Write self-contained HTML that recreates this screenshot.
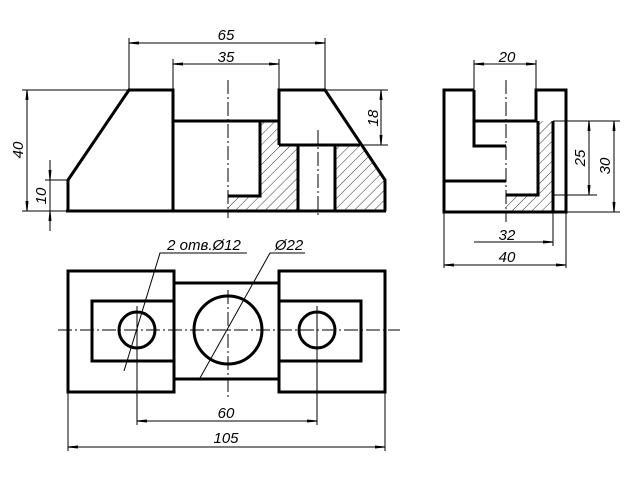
<!DOCTYPE html>
<html><head><meta charset="utf-8"><style>html,body{margin:0;padding:0;background:#fff}svg{display:block}</style></head><body>
<svg width="640" height="480" viewBox="0 0 640 480" xmlns="http://www.w3.org/2000/svg">
<defs>
<pattern id="h" patternUnits="userSpaceOnUse" width="7" height="7" patternTransform="rotate(45)">
<line x1="0" y1="0" x2="0" y2="7" stroke="#000" stroke-width="0.8"/>
</pattern>
<marker id="a" viewBox="0 0 10 4" refX="10" refY="2" markerWidth="10" markerHeight="4" orient="auto-start-reverse" markerUnits="userSpaceOnUse">
<path d="M0,0.5 L10,1.5 L10,2.5 L0,3.5z" fill="#000"/>
</marker>
</defs>
<rect width="640" height="480" fill="#fff"/>
<g fill="url(#h)">
<polygon points="260,121 279,121 279,145 298,145 298,211 228,211 228,196 260,196"/>
<polygon points="335,145 360,145 385,180 385,211 335,211"/>
<polygon points="538,121 553,121 553,212 506,212 506,195 538,195"/>
</g>
<g stroke="#000" stroke-width="3" fill="none" stroke-linejoin="miter">
<polyline points="68,211 68,180 129,90 173,90 173,211"/>
<line x1="66" y1="211" x2="386" y2="211"/>
<polyline points="173,121 279,121"/>
<polyline points="279,145 279,90 325,90 385,180 385,211"/>
<line x1="279" y1="145" x2="360" y2="145"/>
<polyline points="228,196 260,196 260,121"/>
<line x1="298" y1="145" x2="298" y2="211"/>
<line x1="335" y1="145" x2="335" y2="211"/>
<polyline points="474,90 444,90 444,212 566,212 566,90 536,90 536,121 474,121 474,90"/>
<polyline points="474,121 474,146 506,146"/>
<line x1="444" y1="181" x2="506" y2="181"/>
<polyline points="506,195 538,195 538,121"/>
<line x1="553" y1="121" x2="553" y2="212"/>
<rect x="68" y="271" width="106" height="121"/>
<rect x="279" y="271" width="106" height="121"/>
<line x1="174" y1="283" x2="279" y2="283"/>
<line x1="174" y1="379" x2="279" y2="379"/>
<polyline points="174,301 92,301 92,361 174,361"/>
<polyline points="279,301 361,301 361,361 279,361"/>
<circle cx="137" cy="330" r="18"/>
<circle cx="317" cy="330" r="18"/>
<circle cx="228" cy="330" r="34"/>
</g>
<g stroke="#000" stroke-width="1" fill="none" stroke-dasharray="14,3,2,3">
<line x1="228" y1="80" x2="228" y2="218"/>
<line x1="318" y1="130" x2="318" y2="218"/>
<line x1="506" y1="80" x2="506" y2="222"/>
<line x1="58" y1="330" x2="400" y2="330"/>
<line x1="228" y1="290" x2="228" y2="400"/>
</g>
<g stroke="#000" stroke-width="1" fill="none">
<line x1="129" y1="38" x2="129" y2="90"/><line x1="325" y1="38" x2="325" y2="90"/>
<line x1="173" y1="59" x2="173" y2="90"/><line x1="279" y1="59" x2="279" y2="90"/>
<line x1="129" y1="43" x2="325" y2="43" marker-start="url(#a)" marker-end="url(#a)"/>
<line x1="173" y1="64" x2="279" y2="64" marker-start="url(#a)" marker-end="url(#a)"/>
<line x1="22" y1="90" x2="129" y2="90"/><line x1="22" y1="211" x2="68" y2="211"/>
<line x1="27" y1="90" x2="27" y2="211" marker-start="url(#a)" marker-end="url(#a)"/>
<line x1="45" y1="180" x2="68" y2="180"/>
<line x1="50" y1="160" x2="50" y2="180" marker-end="url(#a)"/>
<line x1="50" y1="231" x2="50" y2="211" marker-end="url(#a)"/>
<line x1="50" y1="180" x2="50" y2="211"/>
<line x1="325" y1="90" x2="388" y2="90"/><line x1="360" y1="145" x2="388" y2="145"/>
<line x1="381" y1="90" x2="381" y2="145" marker-start="url(#a)" marker-end="url(#a)"/>
<line x1="474" y1="60" x2="474" y2="90"/><line x1="536" y1="60" x2="536" y2="90"/>
<line x1="474" y1="64" x2="536" y2="64" marker-start="url(#a)" marker-end="url(#a)"/>
<line x1="553" y1="121" x2="620" y2="121"/><line x1="553" y1="195" x2="597" y2="195"/><line x1="566" y1="212" x2="620" y2="212"/>
<line x1="589" y1="121" x2="589" y2="195" marker-start="url(#a)" marker-end="url(#a)"/>
<line x1="614" y1="121" x2="614" y2="212" marker-start="url(#a)" marker-end="url(#a)"/>
<line x1="553" y1="212" x2="553" y2="246"/>
<line x1="474" y1="242" x2="553" y2="242" marker-end="url(#a)"/>
<line x1="444" y1="212" x2="444" y2="268"/><line x1="566" y1="212" x2="566" y2="268"/>
<line x1="444" y1="265" x2="566" y2="265" marker-start="url(#a)" marker-end="url(#a)"/>
<line x1="137" y1="306" x2="137" y2="425"/><line x1="317" y1="306" x2="317" y2="425"/>
<line x1="137" y1="421" x2="317" y2="421" marker-start="url(#a)" marker-end="url(#a)"/>
<line x1="68" y1="392" x2="68" y2="451"/><line x1="385" y1="392" x2="385" y2="451"/>
<line x1="68" y1="447" x2="385" y2="447" marker-start="url(#a)" marker-end="url(#a)"/>
<polyline points="247,253 160,253 124,371"/>
<polyline points="305,253 270,253 200,378"/>
</g>
<g font-family="Liberation Sans, sans-serif" font-style="italic" font-size="15" text-anchor="middle" fill="#000">
<text x="226" y="40">65</text>
<text x="226" y="62">35</text>
<text x="507" y="62">20</text>
<text x="507" y="240">32</text>
<text x="507" y="262">40</text>
<text x="226" y="418">60</text>
<text x="226" y="443">105</text>
<text x="204" y="250">2 отв.Ø12</text>
<text x="289" y="250">Ø22</text>
<text transform="translate(23,150) rotate(-90)">40</text>
<text transform="translate(46,196) rotate(-90)">10</text>
<text transform="translate(378,118) rotate(-90)">18</text>
<text transform="translate(585,158) rotate(-90)">25</text>
<text transform="translate(610,166) rotate(-90)">30</text>
</g>
</svg>
</body></html>
